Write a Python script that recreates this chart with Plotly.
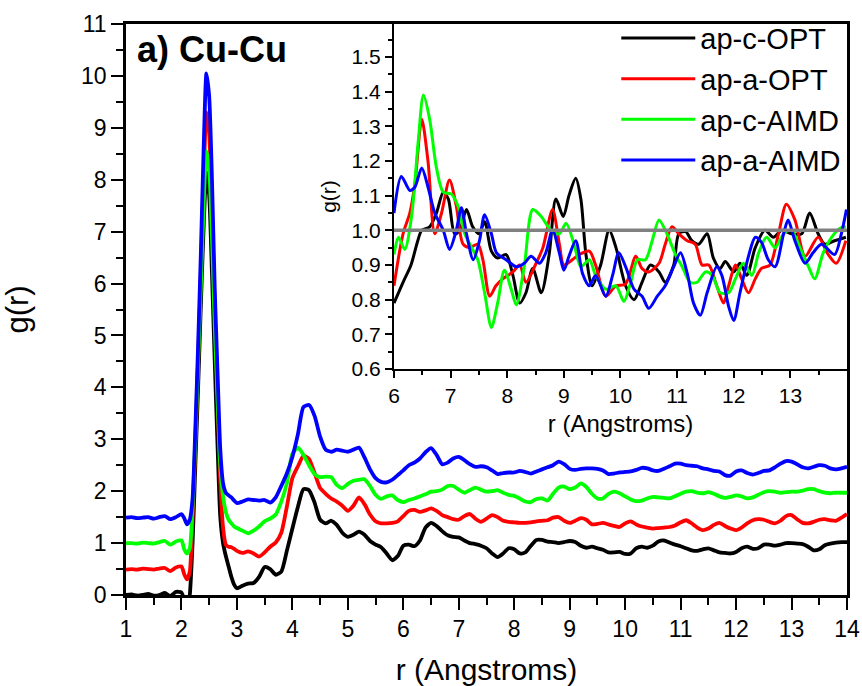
import plotly.graph_objects as go

# ---------------- main panel data (curves are offset by 0, 0.5, 1.0, 1.5 as drawn) ----------------
r_main = ([round(1.0 + 0.1 * i, 2) for i in range(11)]
          + [round(2.05 + 0.05 * i, 2) for i in range(20)]
          + [round(3.1 + 0.1 * i, 2) for i in range(110)])

main_c_opt = [0.00, 0.01, -0.01, 0.00, 0.02, -0.01, 0.00, 0.04, -0.02, 0.06, 0.05,
              -0.10, -0.30, 0.00, 1.0, 2.5, 4.0, 5.6, 7.1, 8.15, 7.7, 6.2, 4.5, 2.9, 1.5, 1.0, 0.75, 0.55, 0.35, 0.20, 0.13,
              0.18, 0.22, 0.23, 0.35, 0.54, 0.50, 0.39, 0.45, 0.85, 1.28,
              1.70, 2.04, 2.02, 1.78, 1.45, 1.38, 1.43, 1.35, 1.20, 1.12,
              1.16, 1.22, 1.16, 1.04, 0.97, 0.92, 0.80, 0.67, 0.75, 0.95,
              0.97, 0.94, 1.05, 1.30, 1.39, 1.33, 1.23, 1.15, 1.12, 1.11,
              1.05, 1.00, 0.98, 0.95, 0.90, 0.80, 0.73, 0.80, 0.90, 0.88,
              0.80, 0.82, 0.95, 1.06, 1.06, 1.03, 1.02, 1.00, 1.02, 1.04,
              1.02, 0.95, 0.91, 0.93, 0.90, 0.87, 0.82, 0.82, 0.83, 0.79,
              0.80, 0.90, 0.93, 0.91, 0.95, 1.03, 1.05, 1.01, 0.97, 0.94,
              0.90, 0.86, 0.85, 0.88, 0.90, 0.86, 0.82, 0.81, 0.80, 0.83,
              0.90, 0.93, 0.89, 0.90, 0.97, 0.97, 0.95, 0.97, 1.00, 1.00,
              0.99, 0.98, 0.93, 0.86, 0.88, 0.96, 0.99, 1.01, 1.02, 1.02]

main_a_opt = [0.49, 0.50, 0.49, 0.51, 0.50, 0.49, 0.51, 0.52, 0.46, 0.53, 0.55,
              0.40, 0.30, 0.45, 1.5, 2.9, 4.5, 6.2, 8.0, 9.3, 8.9, 7.4, 5.5, 3.8, 2.2, 1.3, 0.97, 0.93, 0.92, 0.89, 0.85,
              0.81, 0.84, 0.80, 0.74, 0.82, 0.93, 1.01, 1.20, 1.70, 2.25,
              2.48, 2.68, 2.62, 2.35, 2.06, 1.95, 1.86, 1.80, 1.72, 1.62,
              1.72, 1.88, 1.75, 1.55, 1.42, 1.38, 1.38, 1.39, 1.42, 1.52,
              1.62, 1.64, 1.60, 1.63, 1.67, 1.62, 1.54, 1.50, 1.46, 1.45,
              1.52, 1.56, 1.47, 1.41, 1.47, 1.54, 1.50, 1.43, 1.41, 1.40,
              1.39, 1.39, 1.40, 1.42, 1.43, 1.44, 1.49, 1.50, 1.43, 1.39,
              1.43, 1.48, 1.45, 1.36, 1.37, 1.39, 1.36, 1.33, 1.31, 1.38,
              1.42, 1.36, 1.32, 1.30, 1.28, 1.29, 1.30, 1.31, 1.34, 1.40,
              1.44, 1.38, 1.30, 1.25, 1.28, 1.35, 1.39, 1.33, 1.28, 1.25,
              1.30, 1.38, 1.44, 1.46, 1.45, 1.41, 1.38, 1.43, 1.52, 1.54,
              1.46, 1.39, 1.38, 1.41, 1.45, 1.46, 1.44, 1.43, 1.49, 1.56]

main_c_aimd = [1.00, 1.00, 0.99, 1.01, 1.00, 0.99, 1.02, 1.04, 0.97, 1.03, 1.05,
               0.88, 0.80, 0.90, 1.70, 3.0, 4.5, 6.0, 7.5, 8.55, 8.2, 6.9, 5.2, 3.8, 2.5, 1.9, 1.6, 1.45, 1.38, 1.32, 1.29,
               1.24, 1.19, 1.24, 1.32, 1.42, 1.47, 1.55, 1.80, 2.15, 2.72,
               2.84, 2.70, 2.50, 2.33, 2.27, 2.28, 2.27, 2.12, 2.06, 2.14,
               2.20, 2.22, 2.23, 2.10, 1.93, 1.85, 1.90, 1.92, 1.83, 1.79,
               1.83, 1.86, 1.90, 1.94, 1.99, 2.00, 2.03, 2.10, 2.10, 2.03,
               1.97, 2.02, 2.07, 2.03, 1.99, 2.00, 2.02, 1.97, 1.93, 1.91,
               1.86, 1.80, 1.79, 1.85, 1.86, 1.82, 1.95, 2.07, 2.09, 2.04,
               2.07, 2.15, 2.08, 1.95, 1.86, 1.86, 1.95, 1.99, 1.96, 1.90,
               1.84, 1.81, 1.82, 1.86, 1.89, 1.88, 1.87, 1.86, 1.90, 1.95,
               1.99, 2.00, 1.97, 1.96, 1.98, 1.95, 1.90, 1.87, 1.89, 1.92,
               1.90, 1.86, 1.88, 1.93, 1.98, 2.00, 1.99, 1.97, 1.98, 1.99,
               1.99, 2.01, 2.04, 2.04, 2.00, 1.97, 1.96, 1.97, 1.97, 1.97]

main_a_aimd = [1.49, 1.50, 1.48, 1.49, 1.50, 1.47, 1.50, 1.52, 1.46, 1.50, 1.56,
               1.48, 1.36, 1.45, 1.85, 3.2, 4.8, 6.6, 8.6, 10.05, 9.6, 8.0, 5.9, 4.3, 2.8, 2.15, 1.97, 1.92, 1.88, 1.82, 1.77,
               1.80, 1.84, 1.83, 1.82, 1.83, 1.78, 1.88, 2.10, 2.34, 2.66,
               3.10, 3.62, 3.66, 3.45, 3.05, 2.80, 2.76, 2.80, 2.78, 2.76,
               2.80, 2.84, 2.65, 2.42, 2.25, 2.18, 2.17, 2.22, 2.31, 2.40,
               2.50, 2.55, 2.63, 2.75, 2.83, 2.70, 2.52, 2.55, 2.63, 2.66,
               2.60, 2.52, 2.47, 2.48, 2.46, 2.40, 2.33, 2.35, 2.36, 2.36,
               2.39, 2.37, 2.34, 2.38, 2.42, 2.46, 2.50, 2.57, 2.52, 2.43,
               2.41, 2.43, 2.44, 2.44, 2.43, 2.40, 2.33, 2.34, 2.36, 2.37,
               2.38, 2.41, 2.45, 2.44, 2.40, 2.39, 2.43, 2.48, 2.53, 2.53,
               2.50, 2.49, 2.48, 2.44, 2.42, 2.39, 2.38, 2.31, 2.30, 2.38,
               2.40, 2.35, 2.32, 2.35, 2.39, 2.40, 2.46, 2.53, 2.58, 2.57,
               2.52, 2.46, 2.44, 2.47, 2.50, 2.49, 2.44, 2.42, 2.44, 2.47]

# ---------------- inset data (no offset) ----------------
ins_c_opt_r = [6.0, 6.16, 6.3, 6.42, 6.49, 6.63, 6.75, 6.87, 6.96, 7.07, 7.16, 7.28, 7.39, 7.5, 7.6, 7.72, 7.83,
               7.98, 8.1, 8.22, 8.33, 8.45, 8.6, 8.74, 8.86, 8.99, 9.09, 9.21, 9.3, 9.39, 9.5, 9.65, 9.8, 9.92,
               10.09, 10.24, 10.38, 10.53, 10.68, 10.79, 10.94, 11.03, 11.15, 11.26, 11.38, 11.53, 11.64, 11.76,
               11.85, 12.0, 12.11, 12.23, 12.38, 12.55, 12.7, 12.85, 13.02, 13.2, 13.34, 13.49, 13.61, 13.78, 13.98]
ins_c_opt_g = [0.79, 0.85, 0.90, 0.97, 1.00, 1.01, 1.05, 1.11, 1.09, 0.99, 1.00, 1.06, 1.01, 0.99, 1.025, 0.94, 0.92,
               0.93, 0.87, 0.79, 0.82, 0.89, 0.82, 0.93, 1.09, 1.04, 1.10, 1.15, 1.09, 0.93, 0.84, 0.90, 1.00, 0.95,
               0.84, 0.80, 0.85, 0.90, 0.88, 0.85, 0.90, 0.99, 0.996, 0.97, 0.96, 0.99, 0.92, 0.89,
               0.91, 0.88, 0.905, 0.87, 0.95, 1.00, 0.98, 1.00, 0.99, 0.99, 1.05, 0.99, 0.96, 0.97, 0.98]

ins_a_opt_r = [6.0, 6.16, 6.28, 6.37, 6.49, 6.6, 6.72, 6.84, 6.98, 7.1, 7.22, 7.34, 7.48, 7.57, 7.69, 7.8, 7.92,
               8.1, 8.22, 8.33, 8.51, 8.63, 8.8, 8.92, 9.0, 9.15, 9.27, 9.45, 9.56, 9.74, 9.92, 10.09, 10.27,
               10.38, 10.5, 10.68, 10.79, 10.91, 11.03, 11.18, 11.32, 11.44, 11.56, 11.7, 11.82, 11.91, 12.03,
               12.14, 12.26, 12.38, 12.49, 12.64, 12.79, 12.93, 13.08, 13.26, 13.49, 13.67, 13.81, 13.98]
ins_a_opt_g = [0.84, 0.99, 1.05, 1.135, 1.32, 1.20, 0.99, 1.05, 1.145, 1.07, 0.96, 0.95, 0.96, 0.915, 0.81, 0.84, 0.86,
               0.88, 0.90, 0.85, 0.905, 0.95, 1.06, 0.96, 0.90, 0.915, 0.93, 0.94, 0.90, 0.81, 0.84, 0.845, 0.925,
               0.89, 0.88, 0.905, 0.96, 1.01, 0.99, 0.97, 0.96, 0.90, 0.90, 0.84, 0.79, 0.84, 0.90,
               0.86, 0.82, 0.86, 0.89, 0.90, 0.99, 1.075, 1.03, 0.925, 0.98, 0.93, 0.905, 0.97]

ins_c_aimd_r = [6.0, 6.08, 6.19, 6.31, 6.43, 6.52, 6.63, 6.75, 6.87, 7.01, 7.13, 7.25, 7.37, 7.48, 7.6, 7.72, 7.83,
                7.95, 8.07, 8.16, 8.3, 8.45, 8.6, 8.77, 8.92, 9.04, 9.18, 9.3, 9.45, 9.56, 9.74, 9.92, 10.06,
                10.18, 10.3, 10.44, 10.56, 10.68, 10.82, 10.97, 11.09, 11.23, 11.35, 11.5, 11.62, 11.76, 11.91,
                12.03, 12.17, 12.32, 12.44, 12.58, 12.73, 12.88, 13.02, 13.17, 13.32, 13.43, 13.58, 13.73, 13.87, 13.98]
ins_c_aimd_g = [0.93, 0.98, 0.945, 1.04, 1.26, 1.39, 1.32, 1.18, 1.11, 1.105, 1.07, 0.99, 0.95, 0.915, 0.82, 0.72, 0.79,
                0.885, 0.83, 0.785, 0.895, 1.06, 1.04, 1.00, 0.99, 1.02, 0.96, 0.895, 0.915, 0.87, 0.83, 0.84, 0.795,
                0.85, 0.915, 0.915, 0.97, 1.03, 0.99, 0.93, 0.895, 0.85, 0.85, 0.88, 0.87, 0.82, 0.82,
                0.86, 0.905, 0.87, 0.935, 0.98, 0.95, 0.99, 1.00, 0.95, 0.895, 0.86, 0.935, 0.98, 1.005, 1.01]

ins_a_aimd_r = [6.0, 6.13, 6.28, 6.37, 6.49, 6.6, 6.72, 6.87, 6.98, 7.1, 7.19, 7.28, 7.4, 7.51, 7.6, 7.72, 7.81,
                7.98, 8.16, 8.3, 8.42, 8.57, 8.68, 8.8, 8.92, 9.0, 9.09, 9.21, 9.33, 9.45, 9.56, 9.74, 9.86, 9.97,
                10.09, 10.24, 10.38, 10.5, 10.65, 10.79, 10.94, 11.06, 11.18, 11.29, 11.41, 11.53, 11.7, 11.79,
                11.91, 12.0, 12.11, 12.26, 12.38, 12.49, 12.61, 12.73, 12.88, 12.96, 13.08, 13.26, 13.4, 13.55,
                13.78, 13.9, 13.99]
ins_a_aimd_g = [1.05, 1.155, 1.115, 1.125, 1.18, 1.125, 1.05, 1.00, 0.945, 1.00, 1.065, 0.99, 0.915, 0.97, 1.045, 0.99, 0.935,
                0.915, 0.895, 0.905, 0.925, 0.905, 0.935, 1.00, 0.935, 0.885, 0.925, 0.97, 0.875, 0.84, 0.87, 0.81, 0.87, 0.935,
                0.895, 0.83, 0.81, 0.775, 0.81, 0.84, 0.895, 0.935, 0.875, 0.79, 0.755, 0.82, 0.895, 0.87,
                0.78, 0.74, 0.82, 0.925, 0.98, 0.965, 0.915, 0.895, 0.99, 1.03, 0.97, 0.905, 0.935, 0.96,
                0.93, 0.99, 1.06]

ref_r = [6.0, 14.0]
ref_g = [1.0, 1.0]

names = ["ap-c-OPT", "ap-a-OPT", "ap-c-AIMD", "ap-a-AIMD"]
colors = ["#000000", "#ff0000", "#00ff00", "#0000ff"]
main_series = [main_c_opt, main_a_opt, main_c_aimd, main_a_aimd]
inset_series = [(ins_c_opt_r, ins_c_opt_g), (ins_a_opt_r, ins_a_opt_g),
                (ins_c_aimd_r, ins_c_aimd_g), (ins_a_aimd_r, ins_a_aimd_g)]

FONT = "Liberation Sans, Arial, sans-serif"

fig = go.Figure()
for name, col, ys in zip(names, colors, main_series):
    fig.add_trace(go.Scatter(x=r_main, y=ys, mode="lines", name=name, showlegend=False,
                             line=dict(color=col, width=3.8, shape="spline", smoothing=0.6),
                             xaxis="x", yaxis="y"))
for name, col, (xs, ys) in zip(names, colors, inset_series):
    fig.add_trace(go.Scatter(x=xs, y=ys, mode="lines", name=name, showlegend=True,
                             line=dict(color=col, width=3, shape="spline", smoothing=0.8),
                             xaxis="x2", yaxis="y2"))
fig.add_trace(go.Scatter(x=ref_r, y=ref_g, mode="lines", showlegend=False, hoverinfo="skip",
                         line=dict(color="#808080", width=3.5), xaxis="x2", yaxis="y2"))

axis_common = dict(showgrid=False, zeroline=False, showline=True, linecolor="black",
                   ticks="outside", tickcolor="black", automargin=False, mirror=True)

fig.update_layout(
    width=862, height=686,
    margin=dict(l=126, r=15, t=24, b=91, autoexpand=False),
    paper_bgcolor="white", plot_bgcolor="white",
    font=dict(family=FONT, color="black"),
    showlegend=True,
    legend=dict(x=0.68, y=1.02, xanchor="left", yanchor="top", bgcolor="rgba(0,0,0,0)",
                font=dict(size=29, family=FONT), itemwidth=74, tracegroupgap=0),
    xaxis=dict(**axis_common, domain=[0, 1], range=[1, 14], dtick=1, tick0=1,
               linewidth=2.5, ticklen=12, tickwidth=2, tickfont=dict(size=23),
               ticklabeloverflow="allow",
               minor=dict(dtick=0.5, tick0=1, ticklen=7, tickwidth=2, ticks="outside", tickcolor="black"),
               title=dict(text="r (Angstroms)", font=dict(size=30), standoff=32)),
    yaxis=dict(**axis_common, domain=[0, 1], range=[0, 11], dtick=1, tick0=0,
               linewidth=2.5, ticklen=12, tickwidth=2, tickfont=dict(size=23),
               minor=dict(dtick=0.5, tick0=0, ticklen=7, tickwidth=2, ticks="outside", tickcolor="black"),
               title=dict(text="g(r)", font=dict(size=31), standoff=56)),
    xaxis2=dict(**axis_common, domain=[0.3717, 1.0], anchor="y2", range=[6, 14],
                tickmode="array", tickvals=[6, 7, 8, 9, 10, 11, 12, 13],
                linewidth=2, ticklen=7, tickwidth=1.5, tickfont=dict(size=21),
                minor=dict(tickmode="array", tickvals=[6.5, 7.5, 8.5, 9.5, 10.5, 11.5, 12.5, 13.5],
                           ticklen=4, tickwidth=1.5, ticks="outside", tickcolor="black"),
                title=dict(text="r (Angstroms)", font=dict(size=24), standoff=9)),
    yaxis2=dict(**axis_common, domain=[0.3958, 1.0], anchor="x2", range=[0.6, 1.595],
                dtick=0.1, tick0=0.6, tickformat=".1f",
                linewidth=2, ticklen=7, tickwidth=1.5, tickfont=dict(size=21),
                minor=dict(dtick=0.05, tick0=0.6, ticklen=4, tickwidth=1.5, ticks="outside", tickcolor="black"),
                title=dict(text="g(r)", font=dict(size=21), standoff=9)),
    annotations=[dict(text="<b>a) Cu-Cu</b>", xref="paper", yref="paper", x=0.012, y=0.955,
                      xanchor="left", yanchor="middle", showarrow=False,
                      font=dict(size=36, family=FONT, color="black"))],
)

# remove the default 8px page margin so the 862x686 figure fills the window exactly
fig.write_html("out.html", config={"displayModeBar": False},
               post_script="document.body.style.margin='0';document.body.style.overflow='hidden';")
